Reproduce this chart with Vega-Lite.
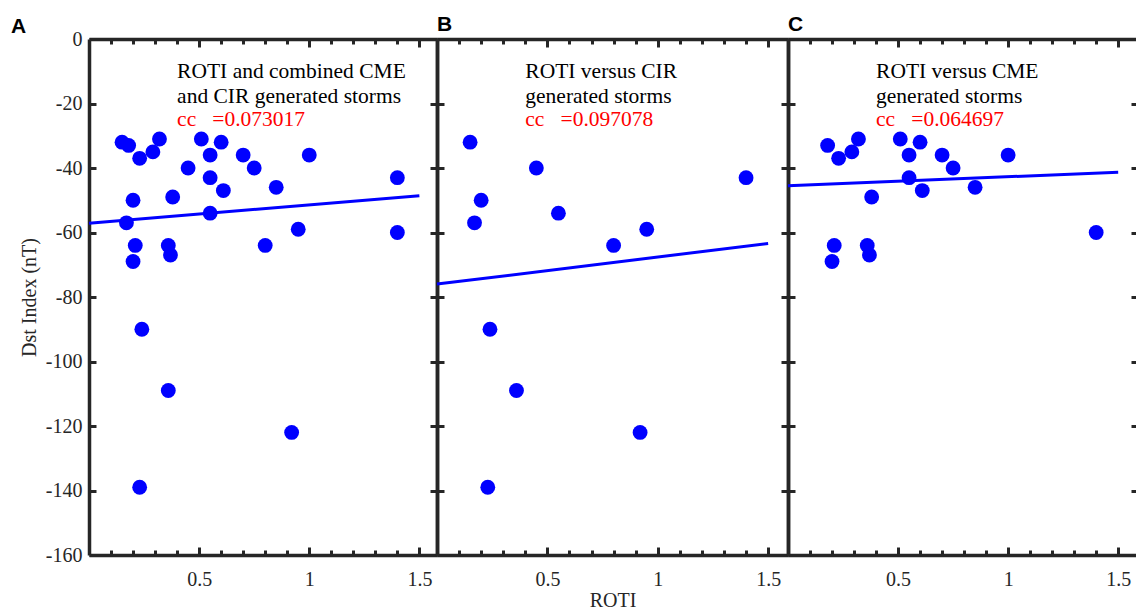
{
  "$schema": "https://vega.github.io/schema/vega-lite/v6.json",
  "background": "white",
  "padding": {"left": 11, "top": 13, "right": 0, "bottom": 0},
  "spacing": 0,
  "bounds": "flush",
  "config": {"view": {"stroke": null}, "axis": {"minExtent": 0}},
  "datasets": {
    "storms": [
      {"roti": 0.15, "dst": -32, "type": "CIR"},
      {"roti": 0.45, "dst": -40, "type": "CIR"},
      {"roti": 0.2, "dst": -50, "type": "CIR"},
      {"roti": 0.17, "dst": -57, "type": "CIR"},
      {"roti": 0.55, "dst": -54, "type": "CIR"},
      {"roti": 0.8, "dst": -64, "type": "CIR"},
      {"roti": 0.95, "dst": -59, "type": "CIR"},
      {"roti": 1.4, "dst": -43, "type": "CIR"},
      {"roti": 0.24, "dst": -90, "type": "CIR"},
      {"roti": 0.36, "dst": -109, "type": "CIR"},
      {"roti": 0.92, "dst": -122, "type": "CIR"},
      {"roti": 0.23, "dst": -139, "type": "CIR"},
      {"roti": 0.18, "dst": -33, "type": "CME"},
      {"roti": 0.23, "dst": -37, "type": "CME"},
      {"roti": 0.29, "dst": -35, "type": "CME"},
      {"roti": 0.32, "dst": -31, "type": "CME"},
      {"roti": 0.51, "dst": -31, "type": "CME"},
      {"roti": 0.55, "dst": -36, "type": "CME"},
      {"roti": 0.6, "dst": -32, "type": "CME"},
      {"roti": 0.55, "dst": -43, "type": "CME"},
      {"roti": 0.61, "dst": -47, "type": "CME"},
      {"roti": 0.7, "dst": -36, "type": "CME"},
      {"roti": 0.75, "dst": -40, "type": "CME"},
      {"roti": 0.85, "dst": -46, "type": "CME"},
      {"roti": 1.0, "dst": -36, "type": "CME"},
      {"roti": 0.38, "dst": -49, "type": "CME"},
      {"roti": 0.21, "dst": -64, "type": "CME"},
      {"roti": 0.2, "dst": -69, "type": "CME"},
      {"roti": 0.36, "dst": -64, "type": "CME"},
      {"roti": 0.37, "dst": -67, "type": "CME"},
      {"roti": 1.4, "dst": -60, "type": "CME"}
    ],
    "fits": [
      {"panel": "A", "roti": 0, "dst": -57.1},
      {"panel": "A", "roti": 1.5, "dst": -48.6},
      {"panel": "B", "roti": 0, "dst": -76.0},
      {"panel": "B", "roti": 1.5, "dst": -63.4},
      {"panel": "C", "roti": 0, "dst": -45.5},
      {"panel": "C", "roti": 1.5, "dst": -41.3}
    ]
  },
  "hconcat": [
    {
      "width": 348,
      "height": 516,
      "title": {"text": "A", "anchor": "start", "frame": "group", "dx": -78, "offset": -25, "baseline": "alphabetic", "font": "Liberation Sans", "fontSize": 21, "fontWeight": "bold", "color": "#000000"},
      "layer": [
        {
          "data": {"name": "fits"},
          "transform": [{"filter": "datum.panel == 'A'"}],
          "mark": {"type": "line", "color": "#0000ff", "strokeWidth": 3},
          "encoding": {
            "x": {"field": "roti", "type": "quantitative", "scale": {"domain": [0, 1.58], "nice": false, "zero": false},
              "axis": {"orient": "top", "values": [0.1,0.2,0.3,0.4,0.5,0.6,0.7,0.8,0.9,1,1.1,1.2,1.3,1.4,1.5], "labels": false, "title": null, "grid": false, "domainColor": "#262626", "domainWidth": 3.5, "tickColor": "#262626", "tickWidth": 3, "tickSize": {"condition": {"test": "datum.value == 0.5 || datum.value == 1 || datum.value == 1.5", "value": -8}, "value": -5}}},
            "y": {"field": "dst", "type": "quantitative", "scale": {"domain": [-160, 0], "nice": false, "zero": false},
              "axis": {"orient": "right", "values": [-160,-140,-120,-100,-80,-60,-40,-20,0], "labels": false, "title": null, "grid": false, "domainColor": "#262626", "domainWidth": 3.5, "tickColor": "#262626", "tickWidth": 3, "tickSize": -7}}
          }
        },
        {
          "data": {"name": "storms"},
          "mark": {"type": "circle", "color": "#0000ff", "opacity": 1, "size": 220},
          "encoding": {
            "x": {"field": "roti", "type": "quantitative", "scale": {"domain": [0, 1.58], "nice": false, "zero": false},
              "axis": {"orient": "bottom", "values": [0.1,0.2,0.3,0.4,0.5,0.6,0.7,0.8,0.9,1,1.1,1.2,1.3,1.4,1.5], "labelExpr": "datum.value == 0.5 ? '0.5' : datum.value == 1 ? '1' : datum.value == 1.5 ? '1.5' : ''", "labelOverlap": false, "labelFlush": false, "labelFont": "Liberation Serif", "labelFontSize": 20, "labelColor": "#262626", "labelPadding": 22, "title": null, "grid": false, "domainColor": "#262626", "domainWidth": 3.5, "tickColor": "#262626", "tickWidth": 3, "tickSize": {"condition": {"test": "datum.value == 0.5 || datum.value == 1 || datum.value == 1.5", "value": -8}, "value": -5}}},
            "y": {"field": "dst", "type": "quantitative", "scale": {"domain": [-160, 0], "nice": false, "zero": false},
              "axis": {"orient": "left", "values": [-160,-140,-120,-100,-80,-60,-40,-20,0], "labelExpr": "'' + datum.value", "labelOverlap": false, "labelFlush": false, "labelFont": "Liberation Serif", "labelFontSize": 20, "labelColor": "#262626", "labelPadding": 14, "title": "Dst Index (nT)", "titleFont": "Liberation Serif", "titleFontSize": 20, "titleFontWeight": "normal", "titleColor": "#262626", "titlePadding": 6, "grid": false, "domainColor": "#262626", "domainWidth": 3.5, "tickColor": "#262626", "tickWidth": 3, "tickSize": -7}}
          }
        },
        {
          "data": {"values": [{}]},
          "mark": {"type": "text", "text": ["ROTI and combined CME", "and CIR generated storms"], "align": "left", "baseline": "alphabetic", "font": "Liberation Serif", "fontSize": 21.5, "lineHeight": 24.5, "color": "#000000"},
          "encoding": {
            "x": {"datum": 0.4, "type": "quantitative", "scale": {"domain": [0, 1.58], "nice": false, "zero": false}, "axis": null},
            "y": {"datum": -12.1, "type": "quantitative", "scale": {"domain": [-160, 0], "nice": false, "zero": false}, "axis": null}
          }
        },
        {
          "data": {"values": [{}]},
          "mark": {"type": "text", "text": "cc\u00a0\u00a0\u00a0=0.073017", "align": "left", "baseline": "alphabetic", "font": "Liberation Serif", "fontSize": 21.5, "color": "#ff0000"},
          "encoding": {
            "x": {"datum": 0.4, "type": "quantitative", "scale": {"domain": [0, 1.58], "nice": false, "zero": false}, "axis": null},
            "y": {"datum": -27.1, "type": "quantitative", "scale": {"domain": [-160, 0], "nice": false, "zero": false}, "axis": null}
          }
        }
      ],
      "resolve": {"axis": {"x": "independent", "y": "independent"}}
    },
    {
      "width": 351,
      "height": 516,
      "title": {"text": "B", "anchor": "start", "frame": "group", "dx": 0, "offset": -14, "baseline": "alphabetic", "font": "Liberation Sans", "fontSize": 21, "fontWeight": "bold", "color": "#000000"},
      "layer": [
        {
          "data": {"name": "fits"},
          "transform": [{"filter": "datum.panel == 'B'"}],
          "mark": {"type": "line", "color": "#0000ff", "strokeWidth": 3},
          "encoding": {
            "x": {"field": "roti", "type": "quantitative", "scale": {"domain": [0, 1.59], "nice": false, "zero": false},
              "axis": {"orient": "top", "values": [0.1,0.2,0.3,0.4,0.5,0.6,0.7,0.8,0.9,1,1.1,1.2,1.3,1.4,1.5], "labels": false, "title": null, "grid": false, "domainColor": "#262626", "domainWidth": 3.5, "tickColor": "#262626", "tickWidth": 3, "tickSize": {"condition": {"test": "datum.value == 0.5 || datum.value == 1 || datum.value == 1.5", "value": -8}, "value": -5}}},
            "y": {"field": "dst", "type": "quantitative", "scale": {"domain": [-160, 0], "nice": false, "zero": false},
              "axis": {"orient": "right", "values": [-160,-140,-120,-100,-80,-60,-40,-20,0], "labels": false, "title": null, "grid": false, "domainColor": "#262626", "domainWidth": 3.5, "tickColor": "#262626", "tickWidth": 3, "tickSize": -7}}
          }
        },
        {
          "data": {"name": "storms"},
          "transform": [{"filter": "datum.type == 'CIR'"}],
          "mark": {"type": "circle", "color": "#0000ff", "opacity": 1, "size": 220},
          "encoding": {
            "x": {"field": "roti", "type": "quantitative", "scale": {"domain": [0, 1.59], "nice": false, "zero": false},
              "axis": {"orient": "bottom", "values": [0.1,0.2,0.3,0.4,0.5,0.6,0.7,0.8,0.9,1,1.1,1.2,1.3,1.4,1.5], "labelExpr": "datum.value == 0.5 ? '0.5' : datum.value == 1 ? '1' : datum.value == 1.5 ? '1.5' : ''", "labelOverlap": false, "labelFlush": false, "labelFont": "Liberation Serif", "labelFontSize": 20, "labelColor": "#262626", "labelPadding": 22, "title": "ROTI", "titleFont": "Liberation Serif", "titleFontSize": 20, "titleFontWeight": "normal", "titleColor": "#262626", "titlePadding": -2, "grid": false, "domainColor": "#262626", "domainWidth": 3.5, "tickColor": "#262626", "tickWidth": 3, "tickSize": {"condition": {"test": "datum.value == 0.5 || datum.value == 1 || datum.value == 1.5", "value": -8}, "value": -5}}},
            "y": {"field": "dst", "type": "quantitative", "scale": {"domain": [-160, 0], "nice": false, "zero": false},
              "axis": {"orient": "left", "values": [-160,-140,-120,-100,-80,-60,-40,-20,0], "labels": false, "title": null, "grid": false, "domainColor": "#262626", "domainWidth": 3.5, "tickColor": "#262626", "tickWidth": 3, "tickSize": -7}}
          }
        },
        {
          "data": {"values": [{}]},
          "mark": {"type": "text", "text": ["ROTI versus CIR", "generated storms"], "align": "left", "baseline": "alphabetic", "font": "Liberation Serif", "fontSize": 21.5, "lineHeight": 24.5, "color": "#000000"},
          "encoding": {
            "x": {"datum": 0.4, "type": "quantitative", "scale": {"domain": [0, 1.59], "nice": false, "zero": false}, "axis": null},
            "y": {"datum": -12.1, "type": "quantitative", "scale": {"domain": [-160, 0], "nice": false, "zero": false}, "axis": null}
          }
        },
        {
          "data": {"values": [{}]},
          "mark": {"type": "text", "text": "cc\u00a0\u00a0\u00a0=0.097078", "align": "left", "baseline": "alphabetic", "font": "Liberation Serif", "fontSize": 21.5, "color": "#ff0000"},
          "encoding": {
            "x": {"datum": 0.4, "type": "quantitative", "scale": {"domain": [0, 1.59], "nice": false, "zero": false}, "axis": null},
            "y": {"datum": -27.1, "type": "quantitative", "scale": {"domain": [-160, 0], "nice": false, "zero": false}, "axis": null}
          }
        }
      ],
      "resolve": {"axis": {"x": "independent", "y": "independent"}}
    },
    {
      "width": 350,
      "height": 516,
      "title": {"text": "C", "anchor": "start", "frame": "group", "dx": 0, "offset": -14, "baseline": "alphabetic", "font": "Liberation Sans", "fontSize": 21, "fontWeight": "bold", "color": "#000000"},
      "layer": [
        {
          "data": {"name": "fits"},
          "transform": [{"filter": "datum.panel == 'C'"}],
          "mark": {"type": "line", "color": "#0000ff", "strokeWidth": 3},
          "encoding": {
            "x": {"field": "roti", "type": "quantitative", "scale": {"domain": [0, 1.59], "nice": false, "zero": false},
              "axis": {"orient": "top", "values": [0.1,0.2,0.3,0.4,0.5,0.6,0.7,0.8,0.9,1,1.1,1.2,1.3,1.4,1.5], "labels": false, "title": null, "grid": false, "domainColor": "#262626", "domainWidth": 3.5, "tickColor": "#262626", "tickWidth": 3, "tickSize": {"condition": {"test": "datum.value == 0.5 || datum.value == 1 || datum.value == 1.5", "value": -8}, "value": -5}}},
            "y": {"field": "dst", "type": "quantitative", "scale": {"domain": [-160, 0], "nice": false, "zero": false},
              "axis": {"orient": "right", "values": [-160,-140,-120,-100,-80,-60,-40,-20,0], "labels": false, "title": null, "grid": false, "domainColor": "#262626", "domainWidth": 3.5, "tickColor": "#262626", "tickWidth": 3, "tickSize": -7}}
          }
        },
        {
          "data": {"name": "storms"},
          "transform": [{"filter": "datum.type == 'CME'"}],
          "mark": {"type": "circle", "color": "#0000ff", "opacity": 1, "size": 220},
          "encoding": {
            "x": {"field": "roti", "type": "quantitative", "scale": {"domain": [0, 1.59], "nice": false, "zero": false},
              "axis": {"orient": "bottom", "values": [0.1,0.2,0.3,0.4,0.5,0.6,0.7,0.8,0.9,1,1.1,1.2,1.3,1.4,1.5], "labelExpr": "datum.value == 0.5 ? '0.5' : datum.value == 1 ? '1' : datum.value == 1.5 ? '1.5' : ''", "labelOverlap": false, "labelFlush": false, "labelFont": "Liberation Serif", "labelFontSize": 20, "labelColor": "#262626", "labelPadding": 22, "title": null, "grid": false, "domainColor": "#262626", "domainWidth": 3.5, "tickColor": "#262626", "tickWidth": 3, "tickSize": {"condition": {"test": "datum.value == 0.5 || datum.value == 1 || datum.value == 1.5", "value": -8}, "value": -5}}},
            "y": {"field": "dst", "type": "quantitative", "scale": {"domain": [-160, 0], "nice": false, "zero": false},
              "axis": {"orient": "left", "values": [-160,-140,-120,-100,-80,-60,-40,-20,0], "labels": false, "title": null, "grid": false, "domainColor": "#262626", "domainWidth": 3.5, "tickColor": "#262626", "tickWidth": 3, "tickSize": -7}}
          }
        },
        {
          "data": {"values": [{}]},
          "mark": {"type": "text", "text": ["ROTI versus CME", "generated storms"], "align": "left", "baseline": "alphabetic", "font": "Liberation Serif", "fontSize": 21.5, "lineHeight": 24.5, "color": "#000000"},
          "encoding": {
            "x": {"datum": 0.4, "type": "quantitative", "scale": {"domain": [0, 1.59], "nice": false, "zero": false}, "axis": null},
            "y": {"datum": -12.1, "type": "quantitative", "scale": {"domain": [-160, 0], "nice": false, "zero": false}, "axis": null}
          }
        },
        {
          "data": {"values": [{}]},
          "mark": {"type": "text", "text": "cc\u00a0\u00a0\u00a0=0.064697", "align": "left", "baseline": "alphabetic", "font": "Liberation Serif", "fontSize": 21.5, "color": "#ff0000"},
          "encoding": {
            "x": {"datum": 0.4, "type": "quantitative", "scale": {"domain": [0, 1.59], "nice": false, "zero": false}, "axis": null},
            "y": {"datum": -27.1, "type": "quantitative", "scale": {"domain": [-160, 0], "nice": false, "zero": false}, "axis": null}
          }
        }
      ],
      "resolve": {"axis": {"x": "independent", "y": "independent"}}
    }
  ]
}
